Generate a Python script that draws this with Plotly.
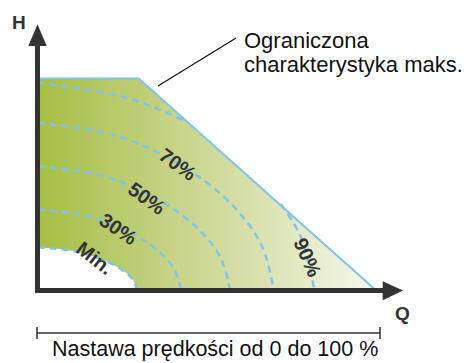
import plotly.graph_objects as go

# ---------------------------------------------------------------------------
# Data (Q = flow, H = head, relative units)
# ---------------------------------------------------------------------------
# Limited maximum characteristic: flat top, then falling to zero head
max_q = [0, 30, 100]
max_h = [100, 100, 0]

# Speed-setting curves
curve_names = ["Min.", "30%", "50%", "70%", "90%"]

min_q = [0, 8.9, 14.8, 20.7, 25.1, 28.0, 29.5]
min_h = [20, 18.7, 16.6, 13.2, 9.3, 5.2, 0]

s30_q = [0, 12.8, 21.3, 29.8, 36.1, 40.4, 42.5]
s30_h = [38, 35.5, 31.5, 25.1, 17.7, 9.9, 0]

s50_q = [0, 17.1, 28.5, 39.9, 48.5, 54.2, 57]
s50_h = [58.5, 54.7, 48.5, 38.6, 27.3, 15.2, 0]

s70_q = [0, 21, 35, 49, 59.5, 66.5, 70]
s70_h = [79, 73.9, 65.5, 52.1, 36.9, 20.5, 0]

# 90 % curve runs behind the maximum characteristic between the two pieces
s90_q = [0, 24.6, 38, 44.5, None, 72, 77.9, 82]
s90_h = [98, 91.6, 84.0, 79.3, None, 40.5, 25.4, 0]

curves_q = [min_q, s30_q, s50_q, s70_q, s90_q]
curves_h = [min_h, s30_h, s50_h, s70_h, s90_h]

# ---------------------------------------------------------------------------
# Styling / layout
# ---------------------------------------------------------------------------
W, HPX = 464, 363
BLUE = "#7fc4ea"
AXIS = "#333333"
TEXT = "#333333"
FONT = "Liberation Sans"

# axis window chosen so the origin sits at the corner of the drawn axes
X_RANGE = [-37.5 / 3.375, (W - 37.5) / 3.375]
Y_RANGE = [(289.5 - HPX) / 2.11, 289.5 / 2.11]


def px(x):
    return x / W


def py(y):
    return 1 - y / HPX


fig = go.Figure()

# Green operating area under the maximum characteristic
fig.add_trace(go.Scatter(
    x=max_q, y=max_h, mode="lines", fill="tozeroy",
    line=dict(width=0, color=BLUE),
    fillgradient=dict(
        type="horizontal",
        colorscale=[
            [0.0, "rgb(166,191,68)"],
            [0.35, "rgb(194,208,126)"],
            [0.7, "rgb(221,228,182)"],
            [1.0, "rgb(247,248,236)"],
        ],
    ),
    hoverinfo="skip", showlegend=False,
))

# White area below the minimum curve
fig.add_trace(go.Scatter(
    x=min_q, y=min_h, mode="lines", fill="tozeroy", fillcolor="white",
    line=dict(width=0, shape="spline", color="white"),
    hoverinfo="skip", showlegend=False,
))

# Dashed speed curves
for name, q, h in zip(curve_names, curves_q, curves_h):
    fig.add_trace(go.Scatter(
        x=q, y=h, mode="lines", name=name,
        line=dict(color=BLUE, width=2.5, dash="7px,5px", shape="spline"),
        connectgaps=False, hoverinfo="skip", showlegend=False,
    ))

# Limited maximum characteristic
fig.add_trace(go.Scatter(
    x=max_q, y=max_h, mode="lines",
    line=dict(color=BLUE, width=2),
    hoverinfo="skip", showlegend=False,
))

# Curve labels placed on their curves
label_q = [17.0, 23.9, 32.3, 41.5, 80.0]
label_h = [15.0, 28.5, 43.5, 59.5, 15.5]
label_angle = [38, 34, 36, 36, 66]
for name, q, h, ang in zip(curve_names, label_q, label_h, label_angle):
    fig.add_annotation(
        x=q, y=h, xref="x", yref="y", text=name, showarrow=False,
        textangle=ang, xanchor="center", yanchor="middle",
        font=dict(family=FONT, size=20, color=TEXT, weight="bold"),
    )

shapes = []
# Axes with arrowheads
shapes.append(dict(type="line", xref="paper", yref="paper",
                   x0=px(37.5), y0=py(293), x1=px(37.5), y1=py(44),
                   line=dict(color=AXIS, width=5), layer="above"))
shapes.append(dict(type="line", xref="paper", yref="paper",
                   x0=px(35), y0=py(290.5), x1=px(385), y1=py(290.5),
                   line=dict(color=AXIS, width=5), layer="above"))
shapes.append(dict(
    type="path", xref="paper", yref="paper", layer="above",
    path=f"M {px(28.3)} {py(46)} L {px(37.5)} {py(24.3)} L {px(46.7)} {py(46)} Z",
    fillcolor=AXIS, line=dict(width=0)))
shapes.append(dict(
    type="path", xref="paper", yref="paper", layer="above",
    path=f"M {px(382.7)} {py(281.2)} L {px(403)} {py(290.5)} L {px(382.7)} {py(300.2)} Z",
    fillcolor=AXIS, line=dict(width=0)))

# Leader line to the maximum-characteristic note
shapes.append(dict(type="line", xref="paper", yref="paper",
                   x0=px(158), y0=py(86), x1=px(236), y1=py(38),
                   line=dict(color="#111111", width=1.2), layer="above"))

# Bracket for the speed-setting range
shapes.append(dict(type="line", xref="paper", yref="paper",
                   x0=px(37), y0=py(333), x1=px(380), y1=py(333),
                   line=dict(color=AXIS, width=1.5)))
for xb in (37, 380):
    shapes.append(dict(type="line", xref="paper", yref="paper",
                       x0=px(xb), y0=py(327), x1=px(xb), y1=py(339),
                       line=dict(color=AXIS, width=1.5)))

# Axis titles
fig.add_annotation(x=px(19), y=py(22.5), xref="paper", yref="paper", text="H",
                   showarrow=False, xanchor="center", yanchor="middle",
                   font=dict(family=FONT, size=19, color=TEXT, weight="bold"))
fig.add_annotation(x=px(402.5), y=py(313), xref="paper", yref="paper", text="Q",
                   showarrow=False, xanchor="center", yanchor="middle",
                   font=dict(family=FONT, size=19, color=TEXT, weight="bold"))

# Note on the maximum characteristic
fig.add_annotation(x=px(242), y=py(40), xref="paper", yref="paper",
                   text="Ograniczona", showarrow=False,
                   xanchor="left", yanchor="middle",
                   font=dict(family=FONT, size=22, color="#111111"))
fig.add_annotation(x=px(242), y=py(64), xref="paper", yref="paper",
                   text="charakterystyka maks.", showarrow=False,
                   xanchor="left", yanchor="middle",
                   font=dict(family=FONT, size=22, color="#111111"))

# Range caption
fig.add_annotation(x=px(215), y=py(362), xref="paper", yref="paper",
                   text="Nastawa prędkości od 0 do 100 %", showarrow=False,
                   xanchor="center", yanchor="bottom", borderpad=0,
                   font=dict(family=FONT, size=21.5, color="#111111"))

fig.update_layout(
    width=W, height=HPX,
    margin=dict(l=0, r=0, t=0, b=0),
    paper_bgcolor="white", plot_bgcolor="white",
    xaxis=dict(range=X_RANGE, visible=False, fixedrange=True),
    yaxis=dict(range=Y_RANGE, visible=False, fixedrange=True),
    shapes=shapes,
    showlegend=False,
)

fig.write_html("out.html")
